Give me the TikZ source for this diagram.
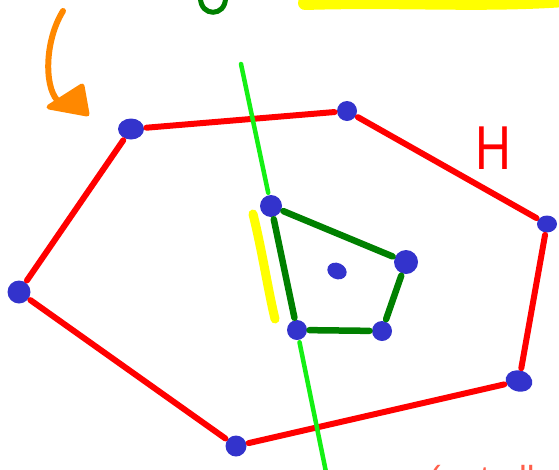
\documentclass[tikz,border=0pt]{standalone}
\usepackage{fontspec}
\setmainfont{Liberation Sans}
\usetikzlibrary{shapes.geometric}
\definecolor{dotblue}{RGB}{51,51,204}
\definecolor{hullred}{RGB}{255,0,0}
\definecolor{dkgreen}{RGB}{0,128,0}
\definecolor{ltgreen}{RGB}{20,240,20}
\definecolor{hlyellow}{RGB}{255,255,0}
\definecolor{arrorange}{RGB}{255,136,0}
\definecolor{notesalmon}{RGB}{255,95,75}
\begin{document}
\begin{tikzpicture}[x=1pt,y=-1pt,
  dot/.style n args={2}{ellipse, fill=dotblue, inner sep=0pt, outer sep=2.5pt,
    minimum width=#1pt, minimum height=#2pt},
  hull/.style={draw=hullred, line width=6pt, line cap=round},
  inner/.style={draw=dkgreen, line width=6.5pt, line cap=round},
  sepline/.style={draw=ltgreen, line width=4.5pt, line cap=round},
  marker/.style={draw=hlyellow, line cap=round, line join=round}]
\useasboundingbox (0,0) rectangle (559,469);
\clip (0,0) rectangle (559,469);

% highlights
\draw[marker, line width=14pt] (305,3) .. controls (400,0) and (480,6) .. (565,0);
\draw[marker, line width=9pt] (253,214) .. controls (262,250) and (268,290) .. (275,319);

% partial green letter at top
\draw[dkgreen, line width=5pt, line cap=round] (200.5,-2) .. controls (200.5,17) and (225.5,17) .. (225.5,-2);

% orange arrow
\draw[arrorange, line width=6pt, line cap=round] (63,11) .. controls (45,40) and (44,85) .. (57,100);
\fill[arrorange, draw=arrorange, line width=5pt, line join=round] (49,107) -- (82,86) -- (87,114) -- cycle;

% outer hull vertices
\node[dot={26}{21}] (h1) at (131,129) {};
\node[dot={20}{20}] (h2) at (347,111) {};
\node[dot={20}{17}] (h3) at (547,224) {};
\node[dot={27}{21}, rotate=-15] (h4) at (519,381) {};
\node[dot={21}{21}] (h5) at (236,446) {};
\node[dot={23}{23}] (h6) at (19,292) {};

% inner polygon vertices
\node[dot={22}{22}] (g1) at (271,206) {};
\node[dot={24}{24}] (g2) at (406,262) {};
\node[dot={20}{20}] (g3) at (382,331) {};
\node[dot={20}{20}] (g4) at (297,330) {};
\node[dot={20}{16}, rotate=-25] (c) at (337,271) {};

% outer hull edges
\draw[hull] (h1) -- (h2);
\draw[hull] (h2) -- (h3);
\draw[hull] (h3) -- (h4);
\draw[hull] (h4) -- (h5);
\draw[hull] (h5) -- (h6);
\draw[hull] (h6) -- (h1);

% inner polygon edges
\draw[inner] (g1) -- (g2);
\draw[inner] (g2) -- (g3);
\draw[inner] (g3) -- (g4);
\draw[inner] (g4) -- (g1);

% separating line
\coordinate (lt) at (241,64);
\coordinate (lb) at (326,472);
\draw[sepline] (lt) -- (g1);
\draw[sepline] (g4) -- (lb);

% labels
\node[text=hullred, font=\fontsize{62}{62}\selectfont, inner sep=0pt] (hlabel) at (493,148) {\scalebox{0.8}[1]{H}};
\node[anchor=base west, text=notesalmon, font=\fontsize{32}{32}\selectfont, inner sep=0pt] (note) at (429,488) {\scalebox{1.1}[1]{(not all}};
\end{tikzpicture}
\end{document}
